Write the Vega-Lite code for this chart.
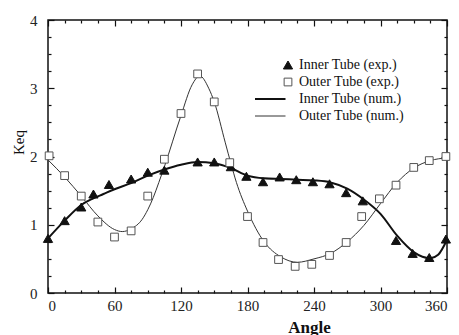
{
  "$schema": "https://vega.github.io/schema/vega-lite/v6.json",
  "width": 399,
  "height": 273,
  "autosize": "none",
  "padding": {"left": 48, "top": 20, "right": 12, "bottom": 42},
  "background": "white",
  "config": {
    "view": {"stroke": "#111", "strokeWidth": 1.5},
    "axis": {"grid": false, "domain": false, "tickColor": "#111", "tickWidth": 1.2, "labelFont": "Liberation Serif", "labelFontSize": 15, "labelColor": "#222", "titleFont": "Liberation Serif", "titleColor": "#111"}
  },
  "datasets": {
    "exp": [
      {"angle": 0, "keq": 0.80, "series": "Inner Tube (exp.)"},
      {"angle": 15, "keq": 1.06, "series": "Inner Tube (exp.)"},
      {"angle": 30, "keq": 1.26, "series": "Inner Tube (exp.)"},
      {"angle": 41, "keq": 1.45, "series": "Inner Tube (exp.)"},
      {"angle": 55, "keq": 1.59, "series": "Inner Tube (exp.)"},
      {"angle": 75, "keq": 1.67, "series": "Inner Tube (exp.)"},
      {"angle": 90, "keq": 1.77, "series": "Inner Tube (exp.)"},
      {"angle": 105, "keq": 1.80, "series": "Inner Tube (exp.)"},
      {"angle": 135, "keq": 1.92, "series": "Inner Tube (exp.)"},
      {"angle": 150, "keq": 1.92, "series": "Inner Tube (exp.)"},
      {"angle": 165, "keq": 1.85, "series": "Inner Tube (exp.)"},
      {"angle": 179, "keq": 1.71, "series": "Inner Tube (exp.)"},
      {"angle": 194, "keq": 1.63, "series": "Inner Tube (exp.)"},
      {"angle": 209, "keq": 1.70, "series": "Inner Tube (exp.)"},
      {"angle": 224, "keq": 1.66, "series": "Inner Tube (exp.)"},
      {"angle": 239, "keq": 1.63, "series": "Inner Tube (exp.)"},
      {"angle": 254, "keq": 1.60, "series": "Inner Tube (exp.)"},
      {"angle": 269, "keq": 1.47, "series": "Inner Tube (exp.)"},
      {"angle": 284, "keq": 1.35, "series": "Inner Tube (exp.)"},
      {"angle": 314, "keq": 0.77, "series": "Inner Tube (exp.)"},
      {"angle": 329, "keq": 0.58, "series": "Inner Tube (exp.)"},
      {"angle": 344, "keq": 0.52, "series": "Inner Tube (exp.)"},
      {"angle": 359, "keq": 0.79, "series": "Inner Tube (exp.)"},
      {"angle": 1, "keq": 2.01, "series": "Outer Tube (exp.)"},
      {"angle": 15, "keq": 1.72, "series": "Outer Tube (exp.)"},
      {"angle": 30, "keq": 1.42, "series": "Outer Tube (exp.)"},
      {"angle": 45, "keq": 1.04, "series": "Outer Tube (exp.)"},
      {"angle": 60, "keq": 0.82, "series": "Outer Tube (exp.)"},
      {"angle": 75, "keq": 0.91, "series": "Outer Tube (exp.)"},
      {"angle": 90, "keq": 1.42, "series": "Outer Tube (exp.)"},
      {"angle": 105, "keq": 1.96, "series": "Outer Tube (exp.)"},
      {"angle": 120, "keq": 2.63, "series": "Outer Tube (exp.)"},
      {"angle": 135, "keq": 3.21, "series": "Outer Tube (exp.)"},
      {"angle": 150, "keq": 2.80, "series": "Outer Tube (exp.)"},
      {"angle": 164, "keq": 1.91, "series": "Outer Tube (exp.)"},
      {"angle": 180, "keq": 1.12, "series": "Outer Tube (exp.)"},
      {"angle": 194, "keq": 0.74, "series": "Outer Tube (exp.)"},
      {"angle": 208, "keq": 0.49, "series": "Outer Tube (exp.)"},
      {"angle": 223, "keq": 0.39, "series": "Outer Tube (exp.)"},
      {"angle": 238, "keq": 0.42, "series": "Outer Tube (exp.)"},
      {"angle": 254, "keq": 0.55, "series": "Outer Tube (exp.)"},
      {"angle": 269, "keq": 0.74, "series": "Outer Tube (exp.)"},
      {"angle": 283, "keq": 1.12, "series": "Outer Tube (exp.)"},
      {"angle": 299, "keq": 1.38, "series": "Outer Tube (exp.)"},
      {"angle": 314, "keq": 1.58, "series": "Outer Tube (exp.)"},
      {"angle": 330, "keq": 1.84, "series": "Outer Tube (exp.)"},
      {"angle": 344, "keq": 1.94, "series": "Outer Tube (exp.)"},
      {"angle": 359, "keq": 2.00, "series": "Outer Tube (exp.)"}
    ],
    "num": [
      {"angle": 0, "keq": 0.80, "series": "Inner Tube (num.)"},
      {"angle": 15, "keq": 1.06, "series": "Inner Tube (num.)"},
      {"angle": 30, "keq": 1.29, "series": "Inner Tube (num.)"},
      {"angle": 40, "keq": 1.38, "series": "Inner Tube (num.)"},
      {"angle": 50, "keq": 1.45, "series": "Inner Tube (num.)"},
      {"angle": 60, "keq": 1.52, "series": "Inner Tube (num.)"},
      {"angle": 75, "keq": 1.61, "series": "Inner Tube (num.)"},
      {"angle": 90, "keq": 1.72, "series": "Inner Tube (num.)"},
      {"angle": 105, "keq": 1.81, "series": "Inner Tube (num.)"},
      {"angle": 120, "keq": 1.88, "series": "Inner Tube (num.)"},
      {"angle": 135, "keq": 1.92, "series": "Inner Tube (num.)"},
      {"angle": 150, "keq": 1.90, "series": "Inner Tube (num.)"},
      {"angle": 165, "keq": 1.83, "series": "Inner Tube (num.)"},
      {"angle": 180, "keq": 1.72, "series": "Inner Tube (num.)"},
      {"angle": 195, "keq": 1.68, "series": "Inner Tube (num.)"},
      {"angle": 210, "keq": 1.67, "series": "Inner Tube (num.)"},
      {"angle": 225, "keq": 1.66, "series": "Inner Tube (num.)"},
      {"angle": 240, "keq": 1.65, "series": "Inner Tube (num.)"},
      {"angle": 255, "keq": 1.62, "series": "Inner Tube (num.)"},
      {"angle": 270, "keq": 1.53, "series": "Inner Tube (num.)"},
      {"angle": 285, "keq": 1.37, "series": "Inner Tube (num.)"},
      {"angle": 300, "keq": 1.16, "series": "Inner Tube (num.)"},
      {"angle": 315, "keq": 0.84, "series": "Inner Tube (num.)"},
      {"angle": 330, "keq": 0.60, "series": "Inner Tube (num.)"},
      {"angle": 345, "keq": 0.51, "series": "Inner Tube (num.)"},
      {"angle": 352, "keq": 0.56, "series": "Inner Tube (num.)"},
      {"angle": 360, "keq": 0.78, "series": "Inner Tube (num.)"},
      {"angle": 0, "keq": 1.95, "series": "Outer Tube (num.)"},
      {"angle": 15, "keq": 1.70, "series": "Outer Tube (num.)"},
      {"angle": 30, "keq": 1.42, "series": "Outer Tube (num.)"},
      {"angle": 45, "keq": 1.13, "series": "Outer Tube (num.)"},
      {"angle": 60, "keq": 0.93, "series": "Outer Tube (num.)"},
      {"angle": 67, "keq": 0.90, "series": "Outer Tube (num.)"},
      {"angle": 75, "keq": 0.94, "series": "Outer Tube (num.)"},
      {"angle": 85, "keq": 1.08, "series": "Outer Tube (num.)"},
      {"angle": 90, "keq": 1.22, "series": "Outer Tube (num.)"},
      {"angle": 95, "keq": 1.40, "series": "Outer Tube (num.)"},
      {"angle": 100, "keq": 1.62, "series": "Outer Tube (num.)"},
      {"angle": 105, "keq": 1.85, "series": "Outer Tube (num.)"},
      {"angle": 120, "keq": 2.60, "series": "Outer Tube (num.)"},
      {"angle": 130, "keq": 3.05, "series": "Outer Tube (num.)"},
      {"angle": 137, "keq": 3.18, "series": "Outer Tube (num.)"},
      {"angle": 145, "keq": 3.00, "series": "Outer Tube (num.)"},
      {"angle": 150, "keq": 2.80, "series": "Outer Tube (num.)"},
      {"angle": 160, "keq": 2.20, "series": "Outer Tube (num.)"},
      {"angle": 165, "keq": 1.90, "series": "Outer Tube (num.)"},
      {"angle": 170, "keq": 1.62, "series": "Outer Tube (num.)"},
      {"angle": 180, "keq": 1.20, "series": "Outer Tube (num.)"},
      {"angle": 195, "keq": 0.75, "series": "Outer Tube (num.)"},
      {"angle": 210, "keq": 0.53, "series": "Outer Tube (num.)"},
      {"angle": 225, "keq": 0.45, "series": "Outer Tube (num.)"},
      {"angle": 240, "keq": 0.50, "series": "Outer Tube (num.)"},
      {"angle": 255, "keq": 0.58, "series": "Outer Tube (num.)"},
      {"angle": 270, "keq": 0.75, "series": "Outer Tube (num.)"},
      {"angle": 285, "keq": 0.99, "series": "Outer Tube (num.)"},
      {"angle": 300, "keq": 1.31, "series": "Outer Tube (num.)"},
      {"angle": 315, "keq": 1.62, "series": "Outer Tube (num.)"},
      {"angle": 330, "keq": 1.83, "series": "Outer Tube (num.)"},
      {"angle": 345, "keq": 1.94, "series": "Outer Tube (num.)"},
      {"angle": 360, "keq": 1.98, "series": "Outer Tube (num.)"}
    ]
  },
  "resolve": {"axis": {"x": "independent", "y": "independent"}},
  "layer": [
    {
      "data": {"name": "num"},
      "transform": [{"filter": "datum.series === 'Inner Tube (num.)'"}],
      "mark": {"type": "line", "interpolate": "monotone", "stroke": "#111", "strokeWidth": 2},
      "encoding": {
        "x": {"field": "angle", "type": "quantitative", "scale": {"domain": [0, 360], "nice": false},
          "axis": {"orient": "bottom", "values": [0, 60, 120, 180, 240, 300, 360], "tickSize": -6, "labelPadding": 11, "title": "Angle", "titleFontWeight": "bold", "titleFontSize": 17, "titleX": 261, "titleY": 39, "titleAlign": "center", "titleBaseline": "alphabetic"}},
        "y": {"field": "keq", "type": "quantitative", "scale": {"domain": [0, 4], "nice": false},
          "axis": {"orient": "left", "values": [0, 1, 2, 3, 4], "tickSize": -6, "labelPadding": 17, "title": "Keq", "titleFontWeight": "normal", "titleFontSize": 15, "titleX": -30, "titleY": 122, "titleAngle": 270, "titleAlign": "center", "titleBaseline": "middle"}}
      }
    },
    {
      "data": {"name": "num"},
      "transform": [{"filter": "datum.series === 'Outer Tube (num.)'"}],
      "mark": {"type": "line", "interpolate": "monotone", "stroke": "#333", "strokeWidth": 1},
      "encoding": {
        "x": {"field": "angle", "type": "quantitative", "axis": null},
        "y": {"field": "keq", "type": "quantitative", "axis": null}
      }
    },
    {
      "data": {"name": "exp"},
      "mark": {"type": "point", "filled": true, "opacity": 1},
      "encoding": {
        "x": {"field": "angle", "type": "quantitative",
          "axis": {"orient": "bottom", "values": [15, 30, 45, 75, 90, 105, 135, 150, 165, 195, 210, 225, 255, 270, 285, 315, 330, 345], "tickSize": -3, "labels": false, "title": null}},
        "y": {"field": "keq", "type": "quantitative",
          "axis": {"orient": "left", "values": [0.25, 0.5, 0.75, 1.25, 1.5, 1.75, 2.25, 2.5, 2.75, 3.25, 3.5, 3.75], "tickSize": -3, "labels": false, "title": null}},
        "shape": {"field": "series", "type": "nominal",
          "scale": {"domain": ["Inner Tube (exp.)", "Outer Tube (exp.)", "Inner Tube (num.)", "Outer Tube (num.)"], "range": ["triangle-up", "square", "M-6.6,0H-0.5", "M-6.6,0H-0.5"]},
          "legend": {"orient": "none", "legendX": 233, "legendY": 38, "title": null, "labelFont": "Liberation Serif", "labelFontSize": 14, "labelColor": "#111", "labelOffset": 4, "padding": 0, "rowPadding": 3}},
        "fill": {"field": "series", "type": "nominal",
          "scale": {"domain": ["Inner Tube (exp.)", "Outer Tube (exp.)", "Inner Tube (num.)", "Outer Tube (num.)"], "range": ["#111", "white", "transparent", "transparent"]}},
        "stroke": {"field": "series", "type": "nominal",
          "scale": {"domain": ["Inner Tube (exp.)", "Outer Tube (exp.)", "Inner Tube (num.)", "Outer Tube (num.)"], "range": ["#111", "#555", "#111", "#333"]}},
        "size": {"field": "series", "type": "nominal",
          "scale": {"type": "ordinal", "domain": ["Inner Tube (exp.)", "Outer Tube (exp.)", "Inner Tube (num.)", "Outer Tube (num.)"], "range": [85, 60, 100, 100]}},
        "strokeWidth": {"field": "series", "type": "nominal",
          "scale": {"type": "ordinal", "domain": ["Inner Tube (exp.)", "Outer Tube (exp.)", "Inner Tube (num.)", "Outer Tube (num.)"], "range": [1, 1, 2, 1]}}
      }
    },
    {
      "data": {"name": "exp"},
      "mark": {"type": "point", "opacity": 0},
      "encoding": {
        "x": {"field": "angle", "type": "quantitative",
          "axis": {"orient": "top", "values": [0, 60, 120, 180, 240, 300, 360], "tickSize": -6, "labels": false, "title": null}},
        "y": {"field": "keq", "type": "quantitative",
          "axis": {"orient": "right", "values": [0, 1, 2, 3, 4], "tickSize": -6, "labels": false, "title": null}}
      }
    },
    {
      "data": {"name": "exp"},
      "mark": {"type": "point", "opacity": 0},
      "encoding": {
        "x": {"field": "angle", "type": "quantitative",
          "axis": {"orient": "top", "values": [15, 30, 45, 75, 90, 105, 135, 150, 165, 195, 210, 225, 255, 270, 285, 315, 330, 345], "tickSize": -3, "labels": false, "title": null}},
        "y": {"field": "keq", "type": "quantitative",
          "axis": {"orient": "right", "values": [0.25, 0.5, 0.75, 1.25, 1.5, 1.75, 2.25, 2.5, 2.75, 3.25, 3.5, 3.75], "tickSize": -3, "labels": false, "title": null}}
      }
    }
  ]
}
